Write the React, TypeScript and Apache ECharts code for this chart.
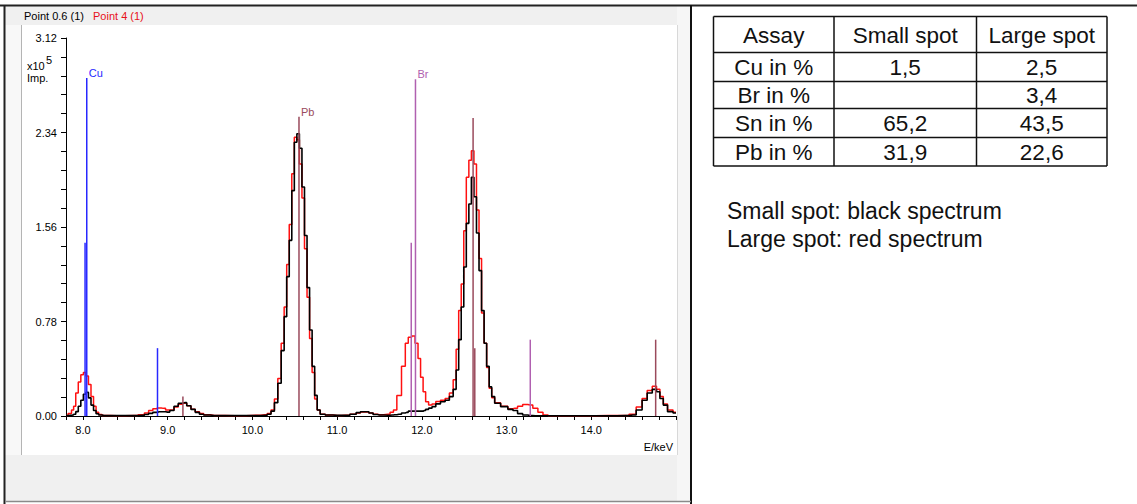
import React, { useEffect, useRef } from "react";
import * as echarts from "echarts";

// ---- Spectrum data (energy in keV, intensity in 10^5 Imp.) ----
const energies = [
  7.8, 7.85, 7.88, 7.9, 7.93, 7.96, 7.99, 8.02, 8.05, 8.08, 8.11, 8.14, 8.17, 8.2, 8.25, 8.4, 8.6,
  8.7, 8.75, 8.8, 8.85, 8.9, 8.95, 9.0, 9.05, 9.1, 9.15, 9.2, 9.25, 9.3, 9.35, 9.4, 9.45, 9.55, 9.8,
  10.05, 10.15, 10.2, 10.24, 10.28, 10.32, 10.36, 10.39, 10.42, 10.45, 10.48, 10.51, 10.54, 10.57,
  10.6, 10.63, 10.66, 10.69, 10.72, 10.75, 10.78, 10.82, 10.9, 11.0, 11.1, 11.2, 11.25, 11.3, 11.35,
  11.4, 11.45, 11.5, 11.6, 11.65, 11.68, 11.73, 11.79, 11.82, 11.86, 11.9, 11.94, 11.97, 12.0, 12.03,
  12.06, 12.1, 12.14, 12.19, 12.25, 12.3, 12.35, 12.39, 12.42, 12.45, 12.48, 12.51, 12.54, 12.57,
  12.6, 12.63, 12.66, 12.69, 12.72, 12.75, 12.78, 12.81, 12.84, 12.88, 12.98, 13.05, 13.1, 13.16,
  13.22, 13.28, 13.34, 13.4, 13.46, 13.52, 13.9, 14.2, 14.4, 14.49, 14.57, 14.63, 14.69, 14.75,
  14.79, 14.83, 14.87, 14.93, 15.0,
];

// Small spot (black spectrum)
const smallSpotCounts = [
  0.003, 0.005, 0.008, 0.015, 0.036, 0.08, 0.13, 0.18, 0.195, 0.15, 0.09, 0.045, 0.018, 0.008, 0.004, 0.003, 0.003,
  0.005, 0.012, 0.022, 0.03, 0.035, 0.035, 0.032, 0.045, 0.08, 0.105, 0.11, 0.085, 0.055, 0.03, 0.015, 0.008, 0.004, 0.003,
  0.003, 0.006, 0.015, 0.04, 0.11, 0.27, 0.54, 0.82, 1.15, 1.45, 1.86, 2.26, 2.33, 2.21,
  1.89, 1.49, 1.06, 0.71, 0.41, 0.17, 0.05, 0.015, 0.008, 0.005, 0.006, 0.015, 0.028, 0.035, 0.035,
  0.025, 0.012, 0.008, 0.006, 0.008, 0.01, 0.015, 0.025, 0.03, 0.04, 0.04, 0.04, 0.04, 0.04, 0.045,
  0.055, 0.065, 0.077, 0.1, 0.118, 0.13, 0.16, 0.22, 0.38, 0.63, 0.9, 1.23, 1.59, 1.75,
  1.97, 1.81, 1.51, 1.2, 0.87, 0.6, 0.41, 0.24, 0.16, 0.105, 0.077, 0.055, 0.045, 0.02,
  0.008, 0.003, 0.002, 0.002, 0.002, 0.002, 0.002, 0.002, 0.003, 0.008, 0.05, 0.13, 0.19, 0.22,
  0.2, 0.145, 0.09, 0.036, 0.025,
];

// Large spot (red spectrum)
const largeSpotCounts = [
  0.005, 0.02, 0.05, 0.08, 0.19, 0.28, 0.34, 0.36, 0.33, 0.26, 0.16, 0.08, 0.03, 0.012, 0.005, 0.003, 0.004,
  0.01, 0.025, 0.045, 0.06, 0.066, 0.063, 0.05, 0.05, 0.075, 0.098, 0.105, 0.085, 0.055, 0.035, 0.02, 0.01, 0.005, 0.003,
  0.006, 0.01, 0.02, 0.05, 0.14, 0.31, 0.6, 0.9, 1.25, 1.58, 2.0, 2.3, 2.28, 2.08,
  1.8, 1.38, 0.98, 0.64, 0.36, 0.14, 0.05, 0.015, 0.008, 0.005, 0.006, 0.015, 0.025, 0.033, 0.034,
  0.025, 0.014, 0.01, 0.015, 0.03, 0.05, 0.17, 0.41, 0.6, 0.65, 0.66, 0.6, 0.475, 0.32, 0.2,
  0.118, 0.09, 0.1, 0.12, 0.13, 0.145, 0.19, 0.3, 0.55, 0.87, 1.09, 1.53, 1.97, 2.11,
  2.19, 2.08, 1.7, 1.3, 0.85, 0.6, 0.4, 0.23, 0.15, 0.11, 0.08, 0.06, 0.065, 0.08,
  0.095, 0.09, 0.065, 0.03, 0.008, 0.002, 0.002, 0.005, 0.005, 0.015, 0.075, 0.145, 0.21, 0.245,
  0.22, 0.16, 0.1, 0.05, 0.03,
];

// Element marker lines: [energy keV, height]
const cuLines = [[8.025, 1.43], [8.045, 2.79], [8.88, 0.56]];
const pbLines = [[9.18, 0.16], [10.55, 2.47], [12.605, 2.46], [12.625, 0.56], [14.76, 0.63]];
const brLines = [[11.875, 1.43], [11.925, 2.78], [13.28, 0.63]];

// Table contents
const tableHeader = ["Assay", "Small spot", "Large spot"];
const assayRows = ["Cu in %", "Br in %", "Sn in %", "Pb in %"];
const smallSpotAssay = ["1,5", "", "65,2", "31,9"];
const largeSpotAssay = ["2,5", "3,4", "43,5", "22,6"];
const notes = ["Small spot: black spectrum", "Large spot: red spectrum"];
const legendNames = ["Point 0.6 (1)", "Point 4 (1)"];

const FONT = '"Liberation Sans", Arial, sans-serif';

function markerSeries(name: string, lines: number[][], color: string) {
  const maxH = Math.max(...lines.map((l) => l[1]));
  return {
    type: "custom",
    name,
    data: lines,
    encode: { x: 0, y: 1 },
    z: 5,
    silent: true,
    renderItem: (_params: any, api: any) => {
      const x = api.value(0);
      const h = api.value(1);
      const p0 = api.coord([x, 0]);
      const p1 = api.coord([x, h]);
      const children: any[] = [
        {
          type: "line",
          shape: { x1: p0[0], y1: p0[1], x2: p1[0], y2: p1[1] },
          style: { stroke: color, lineWidth: 1.5 },
        },
      ];
      if (h === maxH) {
        children.push({
          type: "text",
          x: p1[0] + 2,
          y: p1[1] - 5,
          style: { text: name, fill: color, font: `11px ${FONT}`, verticalAlign: "middle", align: "left" },
        });
      }
      return { type: "group", children };
    },
  };
}

function buildGraphic() {
  const g: any[] = [];
  // left panel background
  g.push({ type: "rect", z: -10, shape: { x: 5, y: 6, width: 685, height: 496 }, style: { fill: "#f0f0f0" } });
  g.push({ type: "rect", z: -10, shape: { x: 5, y: 25, width: 16, height: 430 }, style: { fill: "#f8f8f8" } });
  g.push({ type: "rect", z: -10, shape: { x: 677, y: 6, width: 13, height: 496 }, style: { fill: "#f6f6f6" } });
  g.push({ type: "rect", z: -9, shape: { x: 22, y: 25, width: 655, height: 430 }, style: { fill: "#ffffff" } });
  g.push({ type: "line", z: -8, shape: { x1: 21.5, y1: 25, x2: 21.5, y2: 455 }, style: { stroke: "#b4b4b4", lineWidth: 1 } });
  g.push({ type: "line", z: -8, shape: { x1: 677.5, y1: 25, x2: 677.5, y2: 455 }, style: { stroke: "#d8d8d8", lineWidth: 1 } });
  // frame
  g.push({ type: "line", z: 20, shape: { x1: 0, y1: 5.5, x2: 1137, y2: 5.5 }, style: { stroke: "#222", lineWidth: 2 } });
  g.push({ type: "line", z: 20, shape: { x1: 4.5, y1: 5, x2: 4.5, y2: 504 }, style: { stroke: "#222", lineWidth: 2 } });
  g.push({ type: "line", z: 20, shape: { x1: 691, y1: 5, x2: 691, y2: 504 }, style: { stroke: "#111", lineWidth: 2 } });
  g.push({ type: "line", z: 20, shape: { x1: 5, y1: 501.5, x2: 691, y2: 501.5 }, style: { stroke: "#8a8a8a", lineWidth: 1.5 } });
  // legend
  g.push({ type: "text", z: 20, x: 24, y: 15.5, style: { text: legendNames[0], fill: "#000", font: `11px ${FONT}`, verticalAlign: "middle" } });
  g.push({ type: "text", z: 20, x: 93, y: 15.5, style: { text: legendNames[1], fill: "#e8101a", font: `11px ${FONT}`, verticalAlign: "middle" } });
  // y unit
  g.push({ type: "text", z: 20, x: 27, y: 66, style: { text: "x10", fill: "#000", font: `11px ${FONT}`, verticalAlign: "middle" } });
  g.push({ type: "text", z: 20, x: 46, y: 59.5, style: { text: "5", fill: "#000", font: `11px ${FONT}`, verticalAlign: "middle" } });
  g.push({ type: "text", z: 20, x: 27, y: 77.5, style: { text: "Imp.", fill: "#000", font: `11px ${FONT}`, verticalAlign: "middle" } });
  // x unit
  g.push({ type: "text", z: 20, x: 673, y: 447, style: { text: "E/keV", fill: "#000", font: `11px ${FONT}`, verticalAlign: "middle", align: "right" } });

  // table
  const colX = [713.5, 834, 976.5, 1107];
  const rowY = [16.5, 52.5, 81.5, 108.5, 137.5, 166];
  colX.forEach((x) =>
    g.push({ type: "line", z: 20, shape: { x1: x, y1: rowY[0], x2: x, y2: rowY[rowY.length - 1] }, style: { stroke: "#111", lineWidth: 1.5 } })
  );
  rowY.forEach((y) =>
    g.push({ type: "line", z: 20, shape: { x1: colX[0], y1: y, x2: colX[colX.length - 1], y2: y }, style: { stroke: "#111", lineWidth: 1.5 } })
  );
  const cellText = (text: string, c: number, r: number) => {
    if (!text) return;
    g.push({
      type: "text",
      z: 20,
      x: (colX[c] + colX[c + 1]) / 2,
      y: (rowY[r] + rowY[r + 1]) / 2 + 0.5,
      style: { text, fill: "#111", font: `22.5px ${FONT}`, align: "center", verticalAlign: "middle" },
    });
  };
  tableHeader.forEach((t, c) => cellText(t, c, 0));
  assayRows.forEach((t, r) => {
    cellText(t, 0, r + 1);
    cellText(smallSpotAssay[r], 1, r + 1);
    cellText(largeSpotAssay[r], 2, r + 1);
  });
  notes.forEach((t, i) =>
    g.push({ type: "text", z: 20, x: 727, y: 210.5 + i * 28, style: { text: t, fill: "#111", font: `23px ${FONT}`, verticalAlign: "middle" } })
  );
  return g;
}

export default function App() {
  const ref = useRef<HTMLDivElement>(null);
  useEffect(() => {
    if (!ref.current) return;
    const chart = echarts.init(ref.current, undefined, { renderer: "svg" });
    const xFmt = (v: number) => {
      const r = Math.round(v);
      return Math.abs(v - r) < 1e-6 && r < 15 ? r.toFixed(1) : "";
    };
    const yFmt = (v: number) => {
      const k = v / 0.78;
      return Math.abs(k - Math.round(k)) < 1e-4 ? v.toFixed(2) : "";
    };
    chart.setOption({
      animation: false,
      backgroundColor: "#ffffff",
      grid: { left: 66, top: 38, width: 610, height: 378, containLabel: false },
      xAxis: {
        type: "value",
        min: 7.8,
        max: 15.0,
        interval: 0.2,
        axisLine: { show: true, lineStyle: { color: "#000", width: 1 } },
        axisTick: { show: true, length: 4, lineStyle: { color: "#000" } },
        axisLabel: { formatter: xFmt, color: "#000", fontSize: 11, fontFamily: FONT, margin: 8, showMaxLabel: true, showMinLabel: true },
        splitLine: { show: false },
      },
      yAxis: {
        type: "value",
        min: 0,
        max: 3.12,
        interval: 0.156,
        axisLine: { show: true, lineStyle: { color: "#000", width: 1 } },
        axisTick: { show: true, length: 5, lineStyle: { color: "#000" } },
        axisLabel: { formatter: yFmt, color: "#000", fontSize: 11, fontFamily: FONT, margin: 9 },
        splitLine: { show: false },
      },
      series: [
        {
          type: "line",
          name: legendNames[1],
          step: "middle",
          symbol: "none",
          z: 2,
          data: energies.map((e, i) => [e, largeSpotCounts[i]]),
          lineStyle: { color: "#ff1010", width: 1.5 },
          itemStyle: { color: "#ff1010" },
        },
        {
          type: "line",
          name: legendNames[0],
          step: "middle",
          symbol: "none",
          z: 3,
          data: energies.map((e, i) => [e, smallSpotCounts[i]]),
          lineStyle: { color: "#000000", width: 1.6 },
          itemStyle: { color: "#000000" },
        },
        markerSeries("Cu", cuLines, "#2828ff"),
        markerSeries("Pb", pbLines, "#9a4a5c"),
        markerSeries("Br", brLines, "#b060b0"),
      ],
      graphic: buildGraphic(),
    });
    return () => chart.dispose();
  }, []);
  return <div ref={ref} style={{ position: "fixed", left: 0, top: 0, width: 1137, height: 504 }} />;
}
